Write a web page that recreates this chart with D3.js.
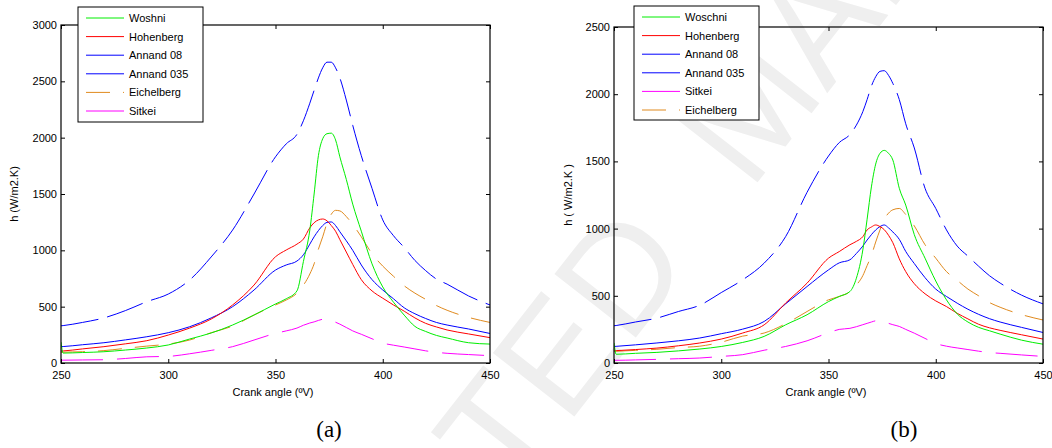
<!DOCTYPE html>
<html><head><meta charset="utf-8">
<script src="https://cdn.jsdelivr.net/npm/d3@7"></script>
<style>
body{margin:0;background:#fff}
svg{display:block}
text{font-family:"Liberation Sans",Arial,sans-serif}
</style>
</head><body>
<svg id="chart" width="1052" height="448"></svg>
<script>
// ---------- data ----------
const angles = [250,251,260,270,280,290,300,310,320,330,340,350,355,360,363,366,368,370,372,374,376,378,380,383,386,390,395,400,405,410,415,420,425,430,440,450];
const xTicks = [250,300,350,400,450];
const yTicksA = [0,500,1000,1500,2000,2500,3000];
const yTicksB = [0,500,1000,1500,2000,2500];

// panel (a)
const woshniA    = [185,88,93,100,115,133,160,213,266,337,426,524,570,640,900,1180,1500,1840,1990,2035,2040,1980,1830,1630,1410,1170,880,675,540,425,325,280,245,222,180,168];
const hohenbergA = [106,107,125,145,170,198,248,310,390,515,692,943,1003,1055,1100,1200,1245,1270,1278,1262,1220,1170,1095,985,875,740,640,575,515,460,400,352,320,293,258,225];
const annand08A  = [330,332,360,400,465,544,612,737,941,1180,1500,1830,1945,2030,2150,2306,2420,2530,2620,2670,2670,2620,2530,2334,2110,1840,1550,1270,1130,1025,910,820,745,700,595,515];
const annand035A = [145,146,162,180,205,233,269,322,400,500,648,825,870,905,960,1055,1120,1175,1220,1248,1252,1220,1165,1085,1000,870,740,648,570,490,437,395,360,337,302,262];
const eichelbergA= [95,96,100,110,130,150,168,204,269,328,426,515,559,620,690,790,880,1010,1120,1240,1320,1355,1350,1300,1230,1120,970,860,770,685,620,565,510,468,405,360];
const sitkeiA    = [25,25,27,29,40,55,59,82,112,145,204,263,285,310,335,355,365,378,388,390,378,362,345,315,285,255,215,177,158,142,125,108,95,86,75,65];

// panel (b)
const woschniB   = [150,65,72,79,90,104,123,153,198,284,359,457,495,532,631,841,1070,1310,1480,1560,1582,1560,1510,1300,1175,955,780,610,470,365,305,265,240,215,170,140];
const hohenbergB = [91,92,100,111,128,149,178,223,284,446,594,780,829,880,905,940,990,1012,1027,1015,992,950,895,775,680,590,515,462,420,370,328,288,262,243,210,178];
const annand08B  = [277,279,305,334,383,430,524,619,743,940,1270,1540,1640,1700,1770,1870,1960,2060,2130,2170,2175,2140,2080,1960,1780,1600,1300,1150,990,870,795,720,650,595,505,440];
const annand035B = [123,124,135,149,165,186,218,252,309,440,569,693,745,768,815,870,915,955,990,1015,1027,1005,975,920,830,740,635,550,495,445,400,362,330,305,265,227];
const sitkeiB    = [20,20,23,27,32,37,49,62,95,123,165,225,250,258,270,285,295,305,314,316,305,295,285,272,250,222,183,145,125,112,100,88,78,72,60,49];
const eichelbergB= [86,87,94,102,115,125,155,200,223,292,383,470,495,532,580,650,725,800,900,990,1070,1115,1140,1150,1105,1020,880,780,680,615,550,500,450,415,360,320];

// ---------- styles ----------
const C = {green:"#00ee00", red:"#ff0000", blue:"#0000ff", orange:"#e08a1e", magenta:"#ff00ff"};

const svg = d3.select("#chart");

// faint watermark
const wm = svg.append("g").attr("fill","#efefef").style("font-family","'Liberation Serif',serif").style("font-size","150px");
wm.append("text").attr("transform","translate(695,262) rotate(-52)").attr("text-anchor","end").text("ACCEPTED");
wm.append("text").attr("transform","translate(750,192) rotate(-52)").attr("text-anchor","start").text("MANUSCRIPT");

function panel(p){
  const x = d3.scaleLinear().domain([250,450]).range([p.l,p.r]);
  const y = d3.scaleLinear().domain([0,p.ymax]).range([p.b,p.t]);
  const g = svg.append("g");
  const clipId = "clip"+p.id;
  g.append("clipPath").attr("id",clipId).append("rect")
    .attr("x",p.l).attr("y",p.t).attr("width",p.r-p.l).attr("height",p.b-p.t);
  const line = d3.line().x((d,i)=>x(angles[i])).y(d=>y(d)).curve(d3.curveMonotoneX);
  const lines = g.append("g").attr("clip-path","url(#"+clipId+")");
  p.series.slice().reverse().forEach(s=>{
    lines.append("path").attr("d",line(s.values)).attr("fill","none")
      .attr("stroke",s.color).attr("stroke-width",1)
      .attr("stroke-dasharray",s.dash||null);
  });
  const fmt = d3.format("d");
  // axes (ticks inward, mirrored on top/right)
  const axB = g.append("g").attr("transform",`translate(0,${p.b})`)
    .call(d3.axisBottom(x).tickValues(xTicks).tickFormat(fmt).tickSizeInner(-4).tickSizeOuter(0).tickPadding(8));
  const axL = g.append("g").attr("transform",`translate(${p.l},0)`)
    .call(d3.axisLeft(y).tickValues(p.yTicks).tickFormat(fmt).tickSizeInner(-4).tickSizeOuter(0).tickPadding(4));
  const axT = g.append("g").attr("transform",`translate(0,${p.t})`)
    .call(d3.axisTop(x).tickValues(xTicks).tickSizeInner(-4).tickSizeOuter(0).tickFormat(""));
  const axR = g.append("g").attr("transform",`translate(${p.r},0)`)
    .call(d3.axisRight(y).tickValues(p.yTicks).tickSizeInner(-4).tickSizeOuter(0).tickFormat(""));
  [axB,axL,axT,axR].forEach(a=>{
    a.select(".domain").remove();
    a.selectAll("text").attr("fill","#000").style("font-size","11px").style("font-family","'Liberation Sans',Arial,sans-serif");
    a.selectAll("line").attr("stroke","#000");
  });
  g.append("rect").attr("x",p.l).attr("y",p.t).attr("width",p.r-p.l).attr("height",p.b-p.t)
    .attr("fill","none").attr("stroke","#000").attr("stroke-width",1.2);
  // axis titles
  g.append("text").attr("x",p.xlabX).attr("y",396).attr("text-anchor","middle")
    .style("font-size","11px").text("Crank angle (ºV)");
  g.append("text").attr("transform",`translate(${p.ylabX},${(p.t+p.b)/2}) rotate(-90)`)
    .attr("text-anchor","middle").style("font-size","11px").text(p.ylab);
  g.append("text").attr("x",p.capX).attr("y",437).attr("text-anchor","middle")
    .style("font-family","'Liberation Serif','Times New Roman',serif").style("font-size","23px").text(p.cap);
  // legend
  const lg = g.append("g");
  lg.append("rect").attr("x",p.lgX).attr("y",p.lgY).attr("width",125).attr("height",p.lgH)
    .attr("fill","#fff").attr("stroke","#000").attr("stroke-width",1);
  p.series.forEach((s,i)=>{
    const yy = p.lgY + 11 + i*18.6;
    lg.append("line").attr("x1",p.lgX+8).attr("x2",p.lgX+46).attr("y1",yy).attr("y2",yy)
      .attr("stroke",s.color).attr("stroke-width",1).attr("stroke-dasharray",s.dash||null);
    lg.append("text").attr("x",p.lgX+51).attr("y",yy+4).style("font-size","11px").text(s.name);
  });
}

panel({id:"a", l:61, r:490, t:25, b:363, ymax:3000, yTicks:yTicksA,
  xlabX:273, ylabX:18, ylab:"h (W/m2.K)", capX:329, cap:"(a)",
  lgX:78, lgY:7, lgH:115,
  series:[
    {name:"Woshni", values:woshniA, color:C.green},
    {name:"Hohenberg", values:hohenbergA, color:C.red},
    {name:"Annand 08", values:annand08A, color:C.blue, dash:"38,9"},
    {name:"Annand 035", values:annand035A, color:C.blue},
    {name:"Eichelberg", values:eichelbergA, color:C.orange, dash:"24,13"},
    {name:"Sitkei", values:sitkeiA, color:C.magenta, dash:"42,14"}
  ]});

panel({id:"b", l:614, r:1043, t:27, b:363, ymax:2500, yTicks:yTicksB,
  xlabX:826, ylabX:572, ylab:"h ( W/m2.K )", capX:904, cap:"(b)",
  lgX:634, lgY:6, lgH:114,
  series:[
    {name:"Woschni", values:woschniB, color:C.green},
    {name:"Hohenberg", values:hohenbergB, color:C.red},
    {name:"Annand 08", values:annand08B, color:C.blue, dash:"38,9"},
    {name:"Annand 035", values:annand035B, color:C.blue},
    {name:"Sitkei", values:sitkeiB, color:C.magenta, dash:"42,14"},
    {name:"Eichelberg", values:eichelbergB, color:C.orange, dash:"24,13"}
  ]});
</script>
</body></html>
